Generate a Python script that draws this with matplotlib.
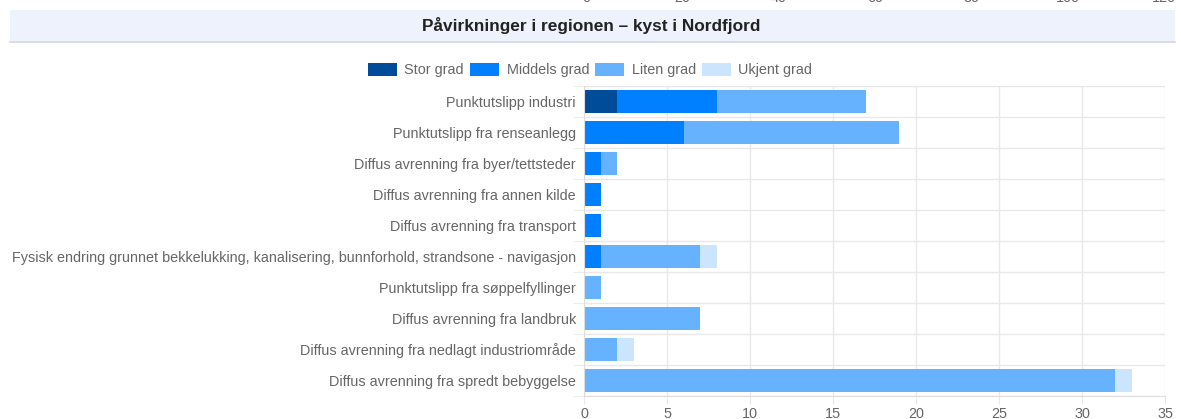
import matplotlib
matplotlib.use("Agg")
import matplotlib.pyplot as plt
from matplotlib.patches import Rectangle
import numpy as np

categories = [
    "Punktutslipp industri",
    "Punktutslipp fra renseanlegg",
    "Diffus avrenning fra byer/tettsteder",
    "Diffus avrenning fra annen kilde",
    "Diffus avrenning fra transport",
    "Fysisk endring grunnet bekkelukking, kanalisering, bunnforhold, strandsone - navigasjon",
    "Punktutslipp fra søppelfyllinger",
    "Diffus avrenning fra landbruk",
    "Diffus avrenning fra nedlagt industriområde",
    "Diffus avrenning fra spredt bebyggelse",
]
series_names = ["Stor grad", "Middels grad", "Liten grad", "Ukjent grad"]
stor = [2, 0, 0, 0, 0, 0, 0, 0, 0, 0]
middels = [6, 6, 1, 1, 1, 1, 0, 0, 0, 0]
liten = [9, 13, 1, 0, 0, 6, 1, 7, 2, 32]
ukjent = [0, 0, 0, 0, 0, 1, 0, 0, 1, 1]
colors = ["#004C99", "#0080FF", "#66B2FF", "#CCE5FF"]
xticks = [0, 5, 10, 15, 20, 25, 30, 35]
top_cut_labels = ["0", "20", "40", "60", "80", "100", "120"]

plt.rcParams["font.family"] = ["Liberation Sans", "DejaVu Sans"]
W, H = 1181, 419
fig = plt.figure(figsize=(W / 100, H / 100), dpi=100)

# Title band
fig.patches.append(Rectangle((10 / W, 1 - 42 / H), 1165 / W, 32 / H,
                             transform=fig.transFigure, facecolor="#EEF2FC",
                             edgecolor="none", zorder=0))
fig.lines.append(plt.Line2D([10 / W, 1175 / W], [1 - 42.5 / H, 1 - 42.5 / H],
                            transform=fig.transFigure, color="#D5D9E3", lw=1.2))
fig.text(591 / W, 1 - 25 / H, "Påvirkninger i regionen – kyst i Nordfjord",
         ha="center", va="center", fontsize=12.4, fontweight="bold", color="#222222")

# Cut-off tick labels from the chart above (only their lower edge is visible)
for i, lab in enumerate(top_cut_labels):
    fig.text((586 + i * 96.3) / W, 1 - 2.5 / H, lab, ha="center", va="baseline",
             fontsize=10.4, color="#666666")

ax = fig.add_axes([584 / W, 1 - 396 / H, (1165 - 584) / W, (396 - 86) / H])
y = np.arange(len(categories))
left = np.zeros(len(categories))
for name, vals, c in zip(series_names, [stor, middels, liten, ukjent], colors):
    v = np.array(vals, dtype=float)
    ax.barh(y, v, left=left, height=0.73, color=c, label=name, zorder=2)
    left += v

ax.set_xlim(0, 35)
ax.set_ylim(len(categories) - 0.5, -0.5)
ax.set_xticks(xticks)
ax.set_yticks(y)
ax.set_yticklabels(categories)
ax.set_yticks(np.arange(-0.5, len(categories), 1), minor=True)
ax.grid(True, axis="x", color="#E8E8E8", lw=1, zorder=0)
ax.grid(True, axis="y", which="minor", color="#E8E8E8", lw=1, zorder=0)
ax.tick_params(axis="y", which="major", length=0, pad=5.8, labelsize=10.4, labelcolor="#666666")
ax.tick_params(axis="y", which="minor", length=8, color="#E8E8E8")
ax.tick_params(axis="x", length=6, color="#E8E8E8", labelsize=10.4, labelcolor="#666666", pad=2)
for s in ["top", "right"]:
    ax.spines[s].set_visible(False)
ax.spines["left"].set_color("#DDDDDD")
ax.spines["bottom"].set_color("#DDDDDD")

leg = fig.legend(loc="center", bbox_to_anchor=(590 / W, 1 - 70 / H), ncol=4,
                 frameon=False, handlelength=2.0, handleheight=1.0,
                 handletextpad=0.55, columnspacing=0.4, fontsize=10.4)
for t in leg.get_texts():
    t.set_color("#666666")

fig.savefig("out.png", dpi=100)
